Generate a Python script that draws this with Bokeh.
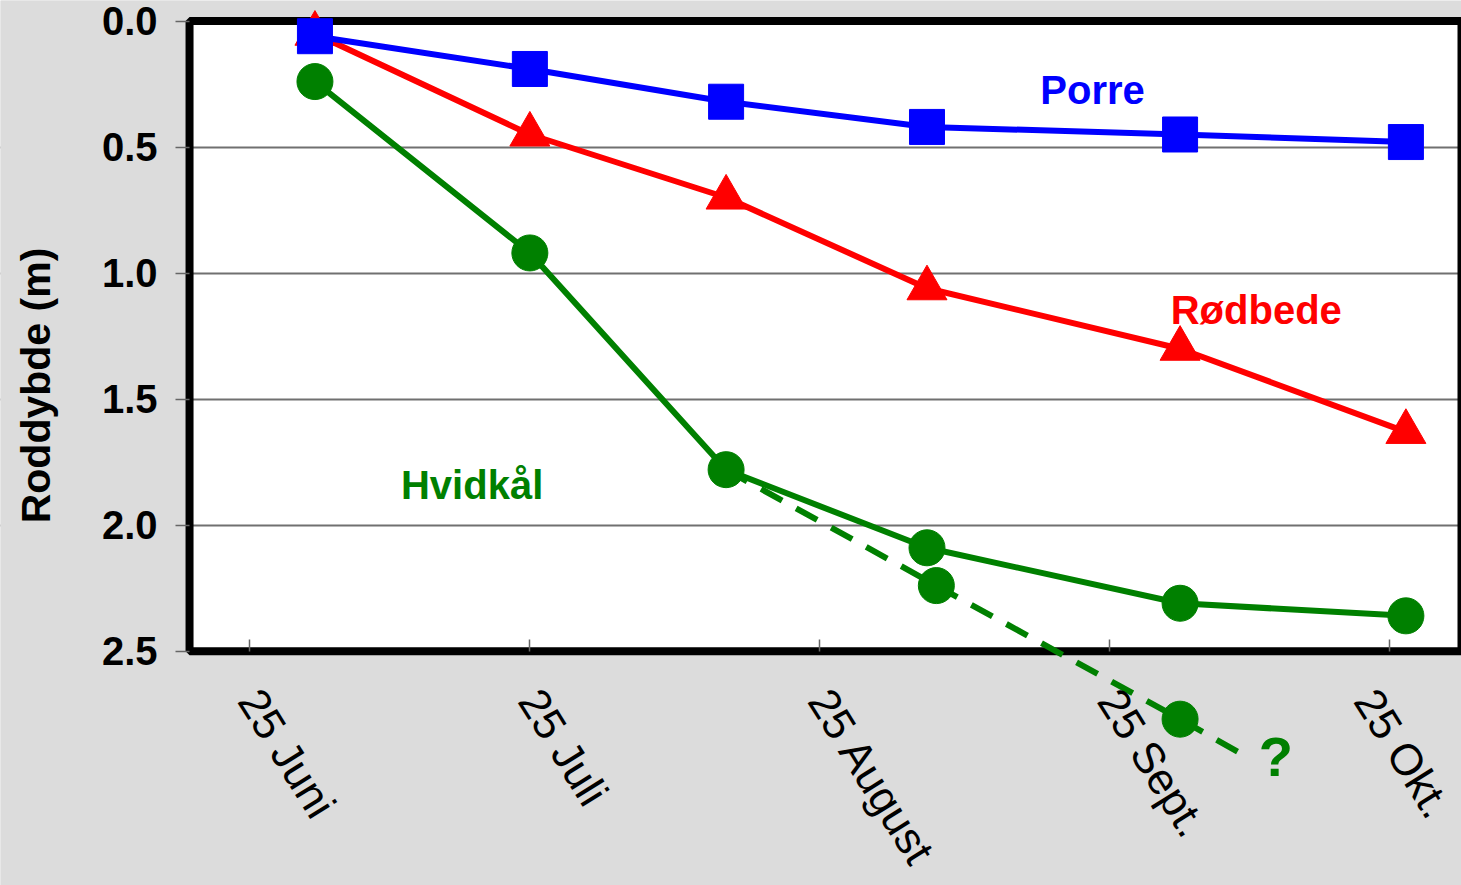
import math
import pandas as pd
from bokeh.plotting import figure
from bokeh.models import Range1d, FixedTicker, BoxAnnotation, Label, PrintfTickFormatter
from bokeh.embed import file_html
from bokeh.resources import INLINE

# ---------------- data ----------------
tick_dates = ["2000-06-25", "2000-07-25", "2000-08-25", "2000-09-25", "2000-10-25"]
tick_labels = ["25 Juni", "25 Juli", "25 August", "25 Sept.", "25 Okt."]
depth_ticks = [0.0, 0.5, 1.0, 1.5, 2.0, 2.5]
y_title = "Roddybde (m)"

sample_dates = ["2000-07-02 00:00", "2000-07-25 00:00", "2000-08-15 00:00", "2000-09-05 12:00",
                "2000-10-02 14:00", "2000-10-26 18:00"]
porre = [0.06, 0.19, 0.32, 0.42, 0.45, 0.48]
roedbede = [0.05, 0.45, 0.70, 1.06, 1.30, 1.63]
hvidkaal = [0.24, 0.92, 1.78, 2.09, 2.31, 2.36]

alt_dates = ["2000-08-15 00:00", "2000-09-06 12:00", "2000-10-02 14:00", "2000-10-08 19:00"]
alt_hvidkaal = [1.78, 2.24, 2.77, 2.90]
alt_marker_dates = ["2000-09-06 12:00", "2000-10-02 14:00"]
alt_marker_hvidkaal = [2.24, 2.77]

label_texts = ["Porre", "Rødbede", "Hvidkål"]
label_dates = ["2000-09-17 15:00", "2000-10-01 14:00", "2000-07-11 05:00"]
label_depths = [0.275, 1.148, 1.842]
label_colors = ["#0000ff", "#ff0000", "#008000"]

q_text = "?"
q_date = "2000-10-11 00:00"
q_depth = 2.92

# ---------------- helpers ----------------
def ms(d):
    return pd.Timestamp(d).value // 10**6

def to_dt(lst):
    return pd.to_datetime(lst, format="%Y-%m-%d %H:%M")

t0 = pd.Timestamp("2000-06-25")
x_start = ms(t0 - pd.Timedelta(days=26.65))   # left edge of the picture
x_axis_pos = ms(t0 - pd.Timedelta(days=6.42))  # where the y axis (left border) sits
x_end = ms(t0 + pd.Timedelta(days=129.7))
y_title_x = ms(t0 - pd.Timedelta(days=22.8))
y_title_depth = 1.446

BG = "#dcdcdc"
FONT = "Liberation Sans"

p = figure(width=1461, height=885, x_axis_type="datetime",
           x_range=Range1d(x_start, x_end), y_range=Range1d(3.430, -0.0817),
           output_backend="svg", toolbar_location=None,
           min_border_left=0, min_border_right=0, min_border_top=0, min_border_bottom=0)
p.background_fill_color = BG
p.border_fill_color = BG
p.outline_line_color = None

# white plot area, grid cover on the left, thick border
p.add_layout(BoxAnnotation(left=x_axis_pos, top=0, bottom=2.5, fill_color="white", fill_alpha=1,
                           line_color=None, level="image"))
p.ygrid.ticker = FixedTicker(ticks=depth_ticks[1:-1])
p.ygrid.grid_line_color = "#707070"
p.ygrid.grid_line_width = 2
p.xgrid.visible = False
p.add_layout(BoxAnnotation(right=x_axis_pos, fill_color=BG, fill_alpha=1,
                           line_color=None, level="underlay"))
p.add_layout(BoxAnnotation(left=x_axis_pos, top=0, bottom=2.5, fill_alpha=0, line_color="black",
                           line_alpha=1, line_width=8, level="underlay"))

# x axis
tick_ms = [ms(d) for d in tick_dates]
xa = p.xaxis[0]
xa.fixed_location = 2.5
xa.ticker = FixedTicker(ticks=tick_ms)
xa.major_label_overrides = dict(zip(tick_ms, tick_labels))
xa.major_label_orientation = -58 * math.pi / 180
xa.major_label_text_font = FONT
xa.major_label_text_font_size = "44px"
xa.major_label_text_color = "black"
xa.major_label_standoff = 42
xa.axis_line_color = None
xa.major_tick_in = 12
xa.major_tick_out = 0
xa.major_tick_line_color = "#666666"
xa.major_tick_line_width = 1.5
xa.minor_tick_line_color = None

# y axis
ya = p.yaxis[0]
ya.fixed_location = x_axis_pos
ya.ticker = FixedTicker(ticks=depth_ticks)
ya.formatter = PrintfTickFormatter(format="%.1f")
ya.axis_line_color = None
ya.major_tick_out = 14
ya.major_tick_in = 0
ya.major_tick_line_color = "#666666"
ya.major_tick_line_width = 1.5
ya.minor_tick_line_color = None
ya.major_label_text_font = FONT
ya.major_label_text_font_size = "40px"
ya.major_label_text_font_style = "bold"
ya.major_label_text_color = "black"
ya.major_label_standoff = 18

# y-axis title beside the tick labels
p.add_layout(Label(x=y_title_x, y=y_title_depth, text=y_title,
                   angle=math.pi / 2, text_align="center", text_baseline="middle",
                   text_font=FONT, text_font_size="41px", text_font_style="bold",
                   text_color="black"))

sd = to_dt(sample_dates)
ad = to_dt(alt_dates)
amd = to_dt(alt_marker_dates)

GREEN, RED, BLUE = "#008000", "#ff0000", "#0000ff"
LW = 6

p.line(ad, alt_hvidkaal, line_color=GREEN, line_width=LW, line_dash="24 16")
p.scatter(amd, alt_marker_hvidkaal, marker="circle", size=36, fill_color=GREEN, line_color=GREEN)
p.line(sd, hvidkaal, line_color=GREEN, line_width=LW)
p.scatter(sd, hvidkaal, marker="circle", size=36, fill_color=GREEN, line_color=GREEN)
p.line(sd, roedbede, line_color=RED, line_width=LW)
p.scatter(sd, roedbede, marker="triangle", size=40, fill_color=RED, line_color=RED)
p.line(sd, porre, line_color=BLUE, line_width=LW)
p.scatter(sd, porre, marker="square", size=35, fill_color=BLUE, line_color=BLUE)

for t, d, v, c in zip(label_texts, label_dates, label_depths, label_colors):
    p.add_layout(Label(x=ms(d), y=v, text=t, text_color=c, text_font=FONT,
                       text_font_size="40px", text_font_style="bold",
                       text_baseline="alphabetic", text_align="left"))
p.add_layout(Label(x=ms(q_date), y=q_depth, text=q_text, text_color=GREEN, text_font=FONT,
                   text_font_size="56px", text_font_style="bold",
                   text_baseline="alphabetic", text_align="left"))

open("out.html", "w").write(file_html(p, INLINE))
